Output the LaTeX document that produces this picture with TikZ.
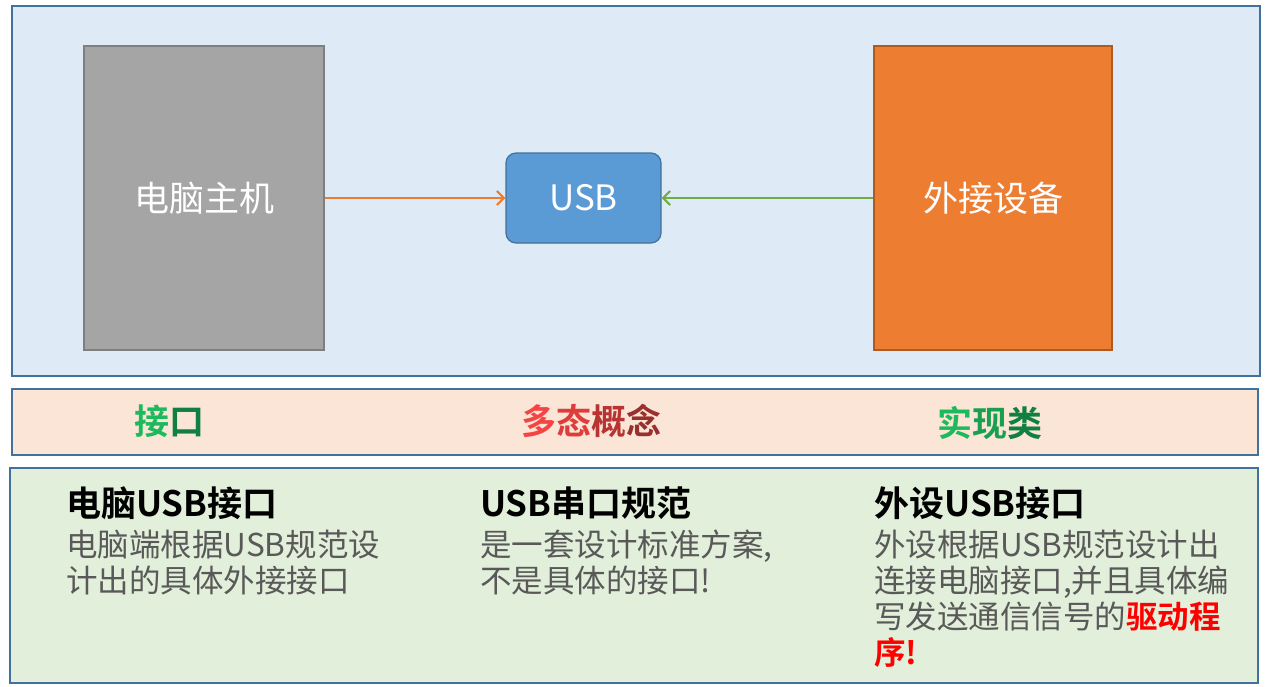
\documentclass[tikz,border=0pt]{standalone}
\usepackage{fontspec}
\setmainfont{Noto Sans CJK SC}
\newfontfamily\cjkb{Noto Sans CJK SC Bold}
\usetikzlibrary{arrows.meta}
\definecolor{panelblue}{HTML}{DEEAF6}
\definecolor{borderblue}{HTML}{41719C}
\definecolor{pcgray}{HTML}{A5A5A5}
\definecolor{pcgrayb}{HTML}{7F7F7F}
\definecolor{usbblue}{HTML}{5B9BD5}
\definecolor{devorange}{HTML}{ED7D31}
\definecolor{devorangeb}{HTML}{AE5A21}
\definecolor{arrgreen}{HTML}{70AD47}
\definecolor{bandpeach}{HTML}{FBE5D6}
\definecolor{panelgreen}{HTML}{E2EFDA}
\definecolor{bodygray}{HTML}{595959}
\definecolor{gA}{HTML}{1CBA5C}
\definecolor{gB}{HTML}{0F8040}
\definecolor{gC}{HTML}{16A050}
\definecolor{rA}{HTML}{F44444}
\definecolor{rB}{HTML}{E03C3C}
\definecolor{rC}{HTML}{B83434}
\definecolor{rD}{HTML}{983030}
\tikzset{
  panel/.style={draw=borderblue, line width=1.2pt, inner sep=0pt},
  bigbox/.style={line width=1.2pt, inner sep=0pt, text=white, font=\fontsize{35}{40}\selectfont},
  conn/.style={line width=2.5pt, -{Straight Barb[length=7pt,width=14pt,line width=2.2pt]}},
  band/.style={font=\cjkb\fontsize{35}{40}\selectfont, inner sep=0pt},
  ttl/.style={anchor=base west, inner sep=0pt, font=\cjkb\fontsize{35}{40}\selectfont},
  body/.style={anchor=base west, inner sep=0pt, text=bodygray, font=\fontsize{31.5}{36}\selectfont},
}
\begin{document}
\begin{tikzpicture}[x=1pt,y=-1pt]
\useasboundingbox (0,0) rectangle (1267,686);
\fill[white] (0,0) rectangle (1267,686);
% top panel
\draw[panel, fill=panelblue] (12,6) rectangle (1260,376);
\node[bigbox, draw=pcgrayb, fill=pcgray, minimum width=240pt, minimum height=304pt] (pc) at (204,198) {电脑主机};
\node[bigbox, draw=borderblue, fill=usbblue, rounded corners=10pt, minimum width=155pt, minimum height=90pt] (usb) at (583.5,198) {USB};
\node[bigbox, draw=devorangeb, fill=devorange, minimum width=238pt, minimum height=304pt] (dev) at (993,198) {外接设备};
\draw[conn, devorange] (pc.east) -- (usb.west);
\draw[conn, arrgreen] (dev.west) -- (usb.east);
% middle band
\draw[panel, fill=bandpeach] (12,389) rectangle (1258,455);
\node[band] (jk) at (169,421) {\textcolor{gA}{接}\textcolor{gB}{口}};
\node[band] (dt) at (591,421) {\textcolor{rA}{多}\textcolor{rB}{态}\textcolor{rC}{概}\textcolor{rD}{念}};
\node[band] (sx) at (990,423) {\textcolor{gA}{实}\textcolor{gC}{现}\textcolor{gB}{类}};
% bottom panel
\draw[panel, fill=panelgreen] (10,468) rectangle (1258,683);
\node[ttl] (t1) at (66,516) {电脑USB接口};
\node[body] (b1a) at (66,556) {电脑端根据USB规范设};
\node[body] (b1b) at (66,592) {计出的具体外接接口};
\node[ttl] (t2) at (480,516) {USB串口规范};
\node[body] (b2a) at (480,556) {是一套设计标准方案,};
\node[body] (b2b) at (480,592) {不是具体的接口!};
\node[ttl] (t3) at (874,516) {外设USB接口};
\node[body] (b3a) at (874,556) {外设根据USB规范设计出};
\node[body] (b3b) at (874,592) {连接电脑接口,并且具体编};
\node[body] (b3c) at (874,628) {写发送通信信号的{\cjkb\color{red}驱动程}};
\node[body] (b3d) at (874,664) {{\cjkb\color{red}序!}};
\end{tikzpicture}
\end{document}
